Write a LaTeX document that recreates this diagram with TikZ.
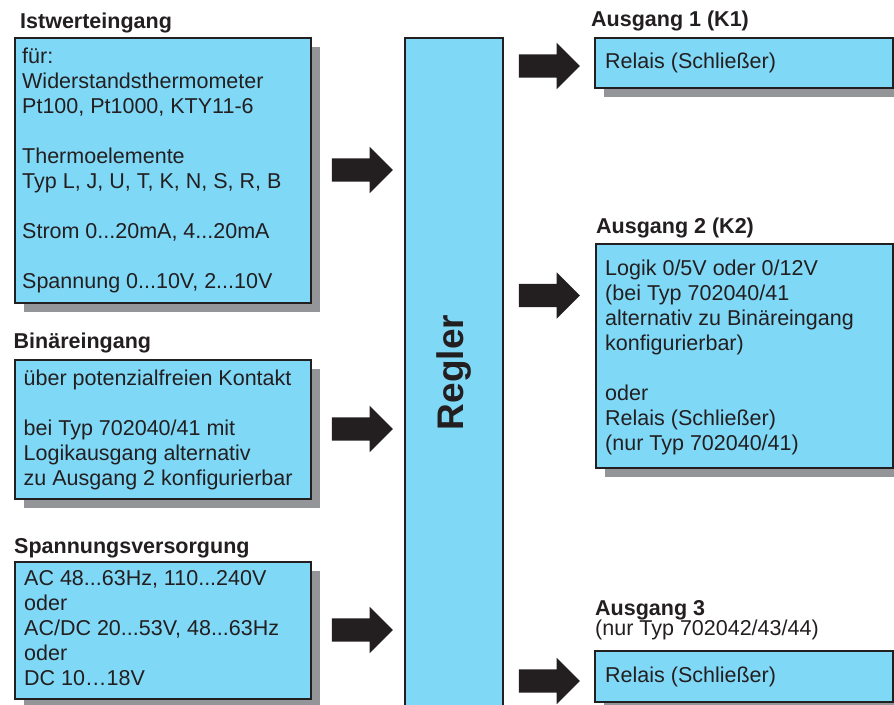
\documentclass[tikz,border=0pt]{standalone}
\usepackage{fontspec}
\setmainfont{Liberation Sans}
\usetikzlibrary{shapes.arrows,shadows,calc}
\definecolor{boxblue}{RGB}{128,216,247}
\definecolor{shadowgray}{RGB}{147,149,152}
\definecolor{inkdark}{RGB}{35,31,32}
\begin{document}
\begin{tikzpicture}[x=1pt,y=-1pt,
  plainbox/.style={draw=inkdark, line width=1.8pt, fill=boxblue, rectangle, inner sep=0pt, anchor=north west},
  box/.style={plainbox, drop shadow={shadow xshift=9pt, shadow yshift=-9pt, fill=shadowgray, opacity=1}},
  body/.style={font=\fontsize{21.5}{25}\selectfont, align=left, inner sep=0pt, anchor=north west, text=inkdark},
  title/.style={font=\fontsize{21.5}{25}\selectfont\bfseries, inner sep=0pt, anchor=base west, text=inkdark},
  subtitle/.style={font=\fontsize{21.5}{25}\selectfont, inner sep=0pt, anchor=base west, text=inkdark},
  blockarrow/.style={single arrow, fill=inkdark, draw=none, inner xsep=0pt, inner ysep=11.5pt, minimum height=61pt, single arrow head extend=11.5pt, single arrow tip angle=90}
]
\useasboundingbox (0,0) rectangle (894,704);
\clip (0,0) rectangle (894,704);

% left column
\node[title] (istH) at (20,28) {Istwerteingang};
\node[box, minimum width=296pt, minimum height=265pt] (ist) at (14,37) {};
\node[body] (istT) at (22,45.5) {\strut für:\\ Widerstandsthermometer\\ Pt100, Pt1000, KTY11-6\\[25pt] Thermoelemente\\ Typ L, J, U, T, K, N, S, R, B\\[25pt] Strom 0...20mA, 4...20mA\\[25pt] Spannung 0...10V, 2...10V};

\node[title] (binH) at (13.5,348) {Binäreingang};
\node[box, minimum width=296pt, minimum height=139pt] (bin) at (14,359) {};
\node[body] (binT) at (23.5,367.5) {\strut über potenzialfreien Kontakt\\[25pt] bei Typ 702040/41 mit\\ Logikausgang alternativ\\ zu Ausgang 2 konfigurierbar};

\node[title] (spgH) at (14,553) {Spannungsversorgung};
\node[box, minimum width=296pt, minimum height=137pt] (spg) at (14,561) {};
\node[body] (spgT) at (24,567.5) {\strut AC 48...63Hz, 110...240V\\ oder\\ AC/DC 20...53V, 48...63Hz\\ oder\\ DC 10…18V};

% controller
\node[plainbox, minimum width=98pt, minimum height=700pt] (reg) at (404,37) {};
\node[font=\fontsize{37}{40}\selectfont\bfseries, text=inkdark, inner sep=0pt, anchor=base, rotate=90] (regT) at (463,372.5) {Regler};

% right column
\node[title] (k1H) at (591,27) {Ausgang 1 (K1)};
\node[box, minimum width=298pt, minimum height=50pt] (k1) at (594,37) {};
\node[body] (k1T) at (605,50.5) {\strut Relais (Schließer)};

\node[title] (k2H) at (596,233) {Ausgang 2 (K2)};
\node[box, minimum width=297pt, minimum height=224pt] (k2) at (595,243) {};
\node[body] (k2T) at (605,257.5) {\strut Logik 0/5V oder 0/12V\\ (bei Typ 702040/41\\ alternativ zu Binäreingang\\ konfigurierbar)\\[25pt] oder\\ Relais (Schließer)\\ (nur Typ 702040/41)};

\node[title] (k3H) at (595,615) {Ausgang 3};
\node[subtitle] (k3S) at (595,635) {(nur Typ 702042/43/44)};
\node[box, minimum width=298pt, minimum height=51pt] (k3) at (594,650) {};
\node[body] (k3T) at (605,664.5) {\strut Relais (Schließer)};

% block arrows
\node[blockarrow] (a1) at (356.5,170) {};
\node[blockarrow] (a2) at (356.5,429) {};
\node[blockarrow] (a3) at (356.5,630) {};
\node[blockarrow] (b1) at (543.5,66) {};
\node[blockarrow] (b2) at (543.5,295.5) {};
\node[blockarrow] (b3) at (543.5,681) {};
\end{tikzpicture}
\end{document}
